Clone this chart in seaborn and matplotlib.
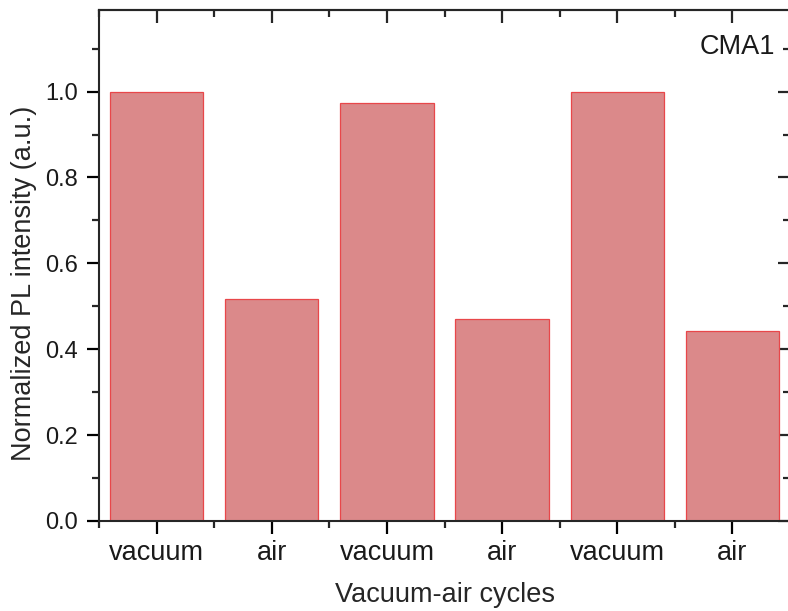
import matplotlib
matplotlib.use("Agg")
import matplotlib.pyplot as plt
from matplotlib.ticker import MultipleLocator, FixedLocator
import seaborn as sns
import numpy as np
import pandas as pd

conditions = ["vacuum", "air", "vacuum", "air", "vacuum", "air"]
intensity = [1.0, 0.517, 0.974, 0.471, 1.0, 0.443]
step = list(range(len(conditions)))

sns.set_style("ticks")
plt.rcParams['font.family'] = ['Liberation Sans', 'DejaVu Sans']
plt.rcParams['text.color'] = '#1a1a1a'

df = pd.DataFrame({"step": step, "intensity": intensity})

fig = plt.figure(figsize=(7.88, 6.11), dpi=100)
ax = fig.add_axes([0.1256, 0.1473, 0.877, 0.8363])

sns.barplot(data=df, x="step", y="intensity", color="#db898a", saturation=1,
            width=0.81, edgecolor="#e8474a", linewidth=0.9, ax=ax)

ax.set_xlim(-0.5, 5.5)
ax.set_ylim(0, 1.19)
ax.set_xticks(step)
ax.set_xticklabels(conditions)
ax.xaxis.set_minor_locator(FixedLocator(np.arange(-0.5, 6.0, 1.0)))
ax.yaxis.set_major_locator(MultipleLocator(0.2))
ax.yaxis.set_minor_locator(MultipleLocator(0.1))
ax.yaxis.set_major_formatter(plt.FormatStrFormatter('%.1f'))

for s in ax.spines.values():
    s.set_linewidth(1.5)
    s.set_visible(True)

ax.tick_params(axis='both', which='major', direction='out', length=9, width=1.6,
               pad=7, colors='black', labelcolor='#1a1a1a')
ax.tick_params(axis='both', which='minor', direction='out', length=5, width=1.6)
ax.tick_params(axis='x', which='major', labelsize=19.5, pad=5)
ax.tick_params(axis='y', which='major', labelsize=17, pad=6)
ax.tick_params(top=False, right=False, which='both')

# top and right ticks pointing inward
secx = ax.secondary_xaxis('top')
secx.set_xticks(step)
secx.xaxis.set_minor_locator(FixedLocator(np.arange(-0.5, 6.0, 1.0)))
secx.tick_params(which='major', direction='in', length=9, width=1.6, labeltop=False)
secx.tick_params(which='minor', direction='in', length=5, width=1.6)
secx.spines['top'].set_linewidth(1.5)
secy = ax.secondary_yaxis('right')
secy.yaxis.set_major_locator(MultipleLocator(0.2))
secy.yaxis.set_minor_locator(MultipleLocator(0.1))
secy.tick_params(which='major', direction='in', length=9, width=1.6, labelright=False)
secy.tick_params(which='minor', direction='in', length=5, width=1.6)

ax.set_xlabel("Vacuum-air cycles", fontsize=19.5, labelpad=11)
ax.set_ylabel("Normalized PL intensity (a.u.)", fontsize=19.5)
ax.yaxis.set_label_coords(-0.09, 0.466)

ax.text(0.978, 0.928, "CMA1", transform=ax.transAxes, ha='right', va='center',
        fontsize=19.5)

fig.savefig("out.png", dpi=100)
